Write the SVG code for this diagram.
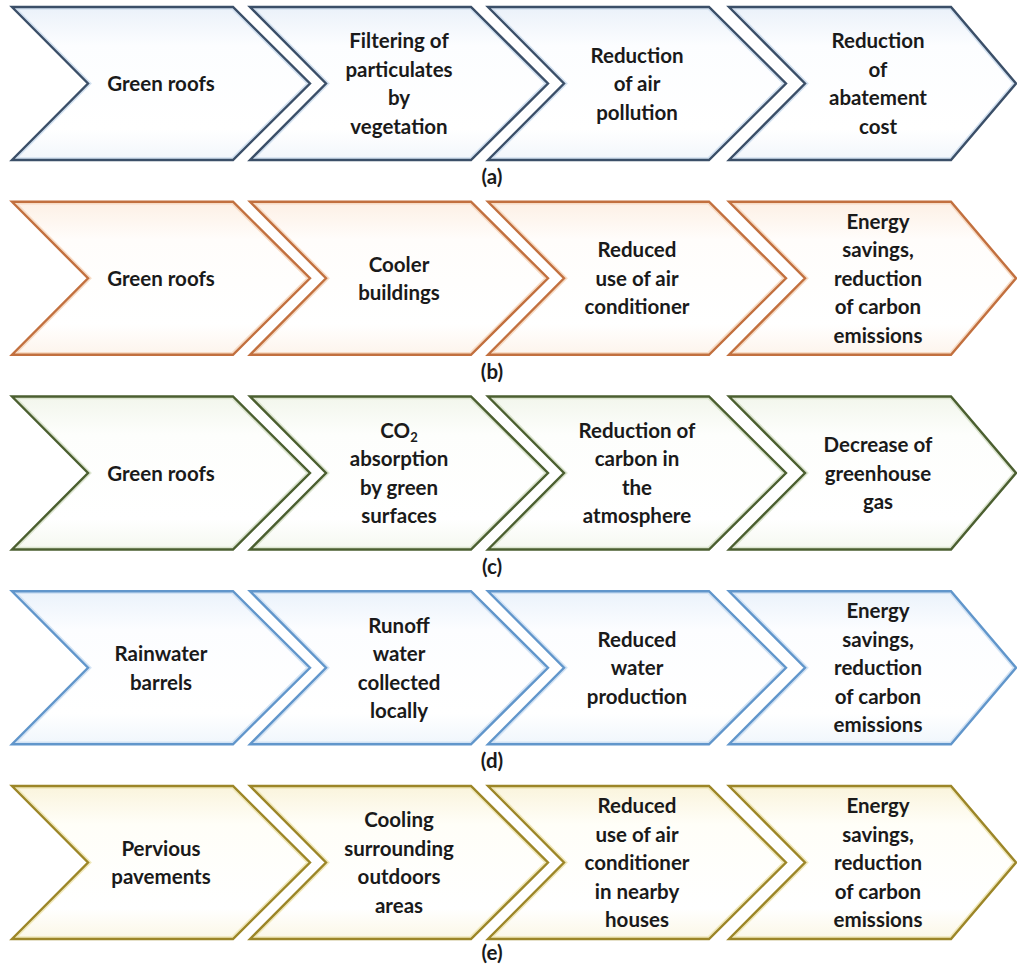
<svg xmlns="http://www.w3.org/2000/svg" xmlns:xlink="http://www.w3.org/1999/xlink" width="1017" height="964" viewBox="0 0 1017 964">
<defs>
  <path id="chev" d="M0,0 H221 L298,76.5 L221,153 H0 L76,76.5 Z"/>
  <path id="chevL" d="M0,0 H222 L287,76.5 L222,153 H0 L76,76.5 Z"/>
  <clipPath id="clipChev"><use xlink:href="#chev"/></clipPath>
  <clipPath id="clipChevL"><use xlink:href="#chevL"/></clipPath>
  <linearGradient id="gA" x1="0" y1="0" x2="0" y2="1"><stop offset="0" stop-color="#eaf1f9"/><stop offset="0.25" stop-color="#fcfdff"/><stop offset="0.8" stop-color="#ffffff"/><stop offset="1" stop-color="#f2f6fb"/></linearGradient>
  <linearGradient id="gB" x1="0" y1="0" x2="0" y2="1"><stop offset="0" stop-color="#fdf0e5"/><stop offset="0.25" stop-color="#fffdfb"/><stop offset="0.8" stop-color="#ffffff"/><stop offset="1" stop-color="#fdf4ec"/></linearGradient>
  <linearGradient id="gC" x1="0" y1="0" x2="0" y2="1"><stop offset="0" stop-color="#f2f6ec"/><stop offset="0.25" stop-color="#fdfefc"/><stop offset="0.8" stop-color="#ffffff"/><stop offset="1" stop-color="#f5f8f0"/></linearGradient>
  <linearGradient id="gD" x1="0" y1="0" x2="0" y2="1"><stop offset="0" stop-color="#eaf2fb"/><stop offset="0.25" stop-color="#fcfdff"/><stop offset="0.8" stop-color="#ffffff"/><stop offset="1" stop-color="#f0f6fc"/></linearGradient>
  <linearGradient id="gE" x1="0" y1="0" x2="0" y2="1"><stop offset="0" stop-color="#faf4dc"/><stop offset="0.25" stop-color="#fffef8"/><stop offset="0.8" stop-color="#ffffff"/><stop offset="1" stop-color="#fbf7e6"/></linearGradient>
</defs>
<style>
  .lbl { font-family: "Lato", "Liberation Sans", sans-serif; font-weight: 700; font-size: 20.5px; fill: #1a1a1a; text-anchor: middle; }
  .cap { font-family: "Lato", "Liberation Sans", sans-serif; font-weight: 700; font-size: 20.5px; fill: #1a1a1a; text-anchor: middle; }
  .inner { fill: none; stroke-width: 5.5; }
  .edge { fill: none; stroke-width: 2.4; stroke-linejoin: miter; }
  .ra .body { fill: url(#gA); } .ra .inner { stroke: #d3e1f0; } .ra .edge { stroke: #3b4f68; }
  .rb .body { fill: url(#gB); } .rb .inner { stroke: #f7dcc6; } .rb .edge { stroke: #c2703f; }
  .rc .body { fill: url(#gC); } .rc .inner { stroke: #dce5d0; } .rc .edge { stroke: #4b5f30; }
  .rd .body { fill: url(#gD); } .rd .inner { stroke: #d3e3f4; } .rd .edge { stroke: #6196cb; }
  .re .body { fill: url(#gE); } .re .inner { stroke: #f0e8bb; } .re .edge { stroke: #9c8628; }
</style>
<rect width="1017" height="964" fill="#ffffff"/>
<g id="connectors"/>

<!-- Row (a) -->
<g class="ra">
  <g id="a1" transform="translate(12,7)">
    <use xlink:href="#chev" class="body"/><use xlink:href="#chev" class="inner" clip-path="url(#clipChev)"/><use xlink:href="#chev" class="edge"/>
    <text class="lbl" x="149" y="84">Green roofs</text>
  </g>
  <g id="a2" transform="translate(250,7)">
    <use xlink:href="#chev" class="body"/><use xlink:href="#chev" class="inner" clip-path="url(#clipChev)"/><use xlink:href="#chev" class="edge"/>
    <text class="lbl" x="149" y="41.25">Filtering of</text>
    <text class="lbl" x="149" y="69.75">particulates</text>
    <text class="lbl" x="149" y="98.25">by</text>
    <text class="lbl" x="149" y="126.75">vegetation</text>
  </g>
  <g id="a3" transform="translate(488,7)">
    <use xlink:href="#chev" class="body"/><use xlink:href="#chev" class="inner" clip-path="url(#clipChev)"/><use xlink:href="#chev" class="edge"/>
    <text class="lbl" x="149" y="55.5">Reduction</text>
    <text class="lbl" x="149" y="84">of air</text>
    <text class="lbl" x="149" y="112.5">pollution</text>
  </g>
  <g id="a4" transform="translate(729,7)">
    <use xlink:href="#chevL" class="body"/><use xlink:href="#chevL" class="inner" clip-path="url(#clipChevL)"/><use xlink:href="#chevL" class="edge"/>
    <text class="lbl" x="149" y="41.25">Reduction</text>
    <text class="lbl" x="149" y="69.75">of</text>
    <text class="lbl" x="149" y="98.25">abatement</text>
    <text class="lbl" x="149" y="126.75">cost</text>
  </g>
</g>

<!-- Row (b) -->
<g class="rb">
  <g id="b1" transform="translate(12,201.75)">
    <use xlink:href="#chev" class="body"/><use xlink:href="#chev" class="inner" clip-path="url(#clipChev)"/><use xlink:href="#chev" class="edge"/>
    <text class="lbl" x="149" y="84">Green roofs</text>
  </g>
  <g id="b2" transform="translate(250,201.75)">
    <use xlink:href="#chev" class="body"/><use xlink:href="#chev" class="inner" clip-path="url(#clipChev)"/><use xlink:href="#chev" class="edge"/>
    <text class="lbl" x="149" y="69.75">Cooler</text>
    <text class="lbl" x="149" y="98.25">buildings</text>
  </g>
  <g id="b3" transform="translate(488,201.75)">
    <use xlink:href="#chev" class="body"/><use xlink:href="#chev" class="inner" clip-path="url(#clipChev)"/><use xlink:href="#chev" class="edge"/>
    <text class="lbl" x="149" y="55.5">Reduced</text>
    <text class="lbl" x="149" y="84">use of air</text>
    <text class="lbl" x="149" y="112.5">conditioner</text>
  </g>
  <g id="b4" transform="translate(729,201.75)">
    <use xlink:href="#chevL" class="body"/><use xlink:href="#chevL" class="inner" clip-path="url(#clipChevL)"/><use xlink:href="#chevL" class="edge"/>
    <text class="lbl" x="149" y="27">Energy</text>
    <text class="lbl" x="149" y="55.5">savings,</text>
    <text class="lbl" x="149" y="84">reduction</text>
    <text class="lbl" x="149" y="112.5">of carbon</text>
    <text class="lbl" x="149" y="141">emissions</text>
  </g>
</g>

<!-- Row (c) -->
<g class="rc">
  <g id="c1" transform="translate(12,396.5)">
    <use xlink:href="#chev" class="body"/><use xlink:href="#chev" class="inner" clip-path="url(#clipChev)"/><use xlink:href="#chev" class="edge"/>
    <text class="lbl" x="149" y="84">Green roofs</text>
  </g>
  <g id="c2" transform="translate(250,396.5)">
    <use xlink:href="#chev" class="body"/><use xlink:href="#chev" class="inner" clip-path="url(#clipChev)"/><use xlink:href="#chev" class="edge"/>
    <text class="lbl" x="149" y="41.25">CO<tspan font-size="13" dy="4">2</tspan></text>
    <text class="lbl" x="149" y="69.75">absorption</text>
    <text class="lbl" x="149" y="98.25">by green</text>
    <text class="lbl" x="149" y="126.75">surfaces</text>
  </g>
  <g id="c3" transform="translate(488,396.5)">
    <use xlink:href="#chev" class="body"/><use xlink:href="#chev" class="inner" clip-path="url(#clipChev)"/><use xlink:href="#chev" class="edge"/>
    <text class="lbl" x="149" y="41.25">Reduction of</text>
    <text class="lbl" x="149" y="69.75">carbon in</text>
    <text class="lbl" x="149" y="98.25">the</text>
    <text class="lbl" x="149" y="126.75">atmosphere</text>
  </g>
  <g id="c4" transform="translate(729,396.5)">
    <use xlink:href="#chevL" class="body"/><use xlink:href="#chevL" class="inner" clip-path="url(#clipChevL)"/><use xlink:href="#chevL" class="edge"/>
    <text class="lbl" x="149" y="55.5">Decrease of</text>
    <text class="lbl" x="149" y="84">greenhouse</text>
    <text class="lbl" x="149" y="112.5">gas</text>
  </g>
</g>

<!-- Row (d) -->
<g class="rd">
  <g id="d1" transform="translate(12,591.25)">
    <use xlink:href="#chev" class="body"/><use xlink:href="#chev" class="inner" clip-path="url(#clipChev)"/><use xlink:href="#chev" class="edge"/>
    <text class="lbl" x="149" y="69.75">Rainwater</text>
    <text class="lbl" x="149" y="98.25">barrels</text>
  </g>
  <g id="d2" transform="translate(250,591.25)">
    <use xlink:href="#chev" class="body"/><use xlink:href="#chev" class="inner" clip-path="url(#clipChev)"/><use xlink:href="#chev" class="edge"/>
    <text class="lbl" x="149" y="41.25">Runoff</text>
    <text class="lbl" x="149" y="69.75">water</text>
    <text class="lbl" x="149" y="98.25">collected</text>
    <text class="lbl" x="149" y="126.75">locally</text>
  </g>
  <g id="d3" transform="translate(488,591.25)">
    <use xlink:href="#chev" class="body"/><use xlink:href="#chev" class="inner" clip-path="url(#clipChev)"/><use xlink:href="#chev" class="edge"/>
    <text class="lbl" x="149" y="55.5">Reduced</text>
    <text class="lbl" x="149" y="84">water</text>
    <text class="lbl" x="149" y="112.5">production</text>
  </g>
  <g id="d4" transform="translate(729,591.25)">
    <use xlink:href="#chevL" class="body"/><use xlink:href="#chevL" class="inner" clip-path="url(#clipChevL)"/><use xlink:href="#chevL" class="edge"/>
    <text class="lbl" x="149" y="27">Energy</text>
    <text class="lbl" x="149" y="55.5">savings,</text>
    <text class="lbl" x="149" y="84">reduction</text>
    <text class="lbl" x="149" y="112.5">of carbon</text>
    <text class="lbl" x="149" y="141">emissions</text>
  </g>
</g>

<!-- Row (e) -->
<g class="re">
  <g id="e1" transform="translate(12,786)">
    <use xlink:href="#chev" class="body"/><use xlink:href="#chev" class="inner" clip-path="url(#clipChev)"/><use xlink:href="#chev" class="edge"/>
    <text class="lbl" x="149" y="69.75">Pervious</text>
    <text class="lbl" x="149" y="98.25">pavements</text>
  </g>
  <g id="e2" transform="translate(250,786)">
    <use xlink:href="#chev" class="body"/><use xlink:href="#chev" class="inner" clip-path="url(#clipChev)"/><use xlink:href="#chev" class="edge"/>
    <text class="lbl" x="149" y="41.25">Cooling</text>
    <text class="lbl" x="149" y="69.75">surrounding</text>
    <text class="lbl" x="149" y="98.25">outdoors</text>
    <text class="lbl" x="149" y="126.75">areas</text>
  </g>
  <g id="e3" transform="translate(488,786)">
    <use xlink:href="#chev" class="body"/><use xlink:href="#chev" class="inner" clip-path="url(#clipChev)"/><use xlink:href="#chev" class="edge"/>
    <text class="lbl" x="149" y="27">Reduced</text>
    <text class="lbl" x="149" y="55.5">use of air</text>
    <text class="lbl" x="149" y="84">conditioner</text>
    <text class="lbl" x="149" y="112.5">in nearby</text>
    <text class="lbl" x="149" y="141">houses</text>
  </g>
  <g id="e4" transform="translate(729,786)">
    <use xlink:href="#chevL" class="body"/><use xlink:href="#chevL" class="inner" clip-path="url(#clipChevL)"/><use xlink:href="#chevL" class="edge"/>
    <text class="lbl" x="149" y="27">Energy</text>
    <text class="lbl" x="149" y="55.5">savings,</text>
    <text class="lbl" x="149" y="84">reduction</text>
    <text class="lbl" x="149" y="112.5">of carbon</text>
    <text class="lbl" x="149" y="141">emissions</text>
  </g>
</g>

<!-- Captions -->
<g id="captions">
  <text class="cap" x="492" y="184">(a)</text>
  <text class="cap" x="492" y="378.75">(b)</text>
  <text class="cap" x="492" y="573.5">(c)</text>
  <text class="cap" x="492" y="768.25">(d)</text>
  <text class="cap" x="492" y="960">(e)</text>
</g>
</svg>
